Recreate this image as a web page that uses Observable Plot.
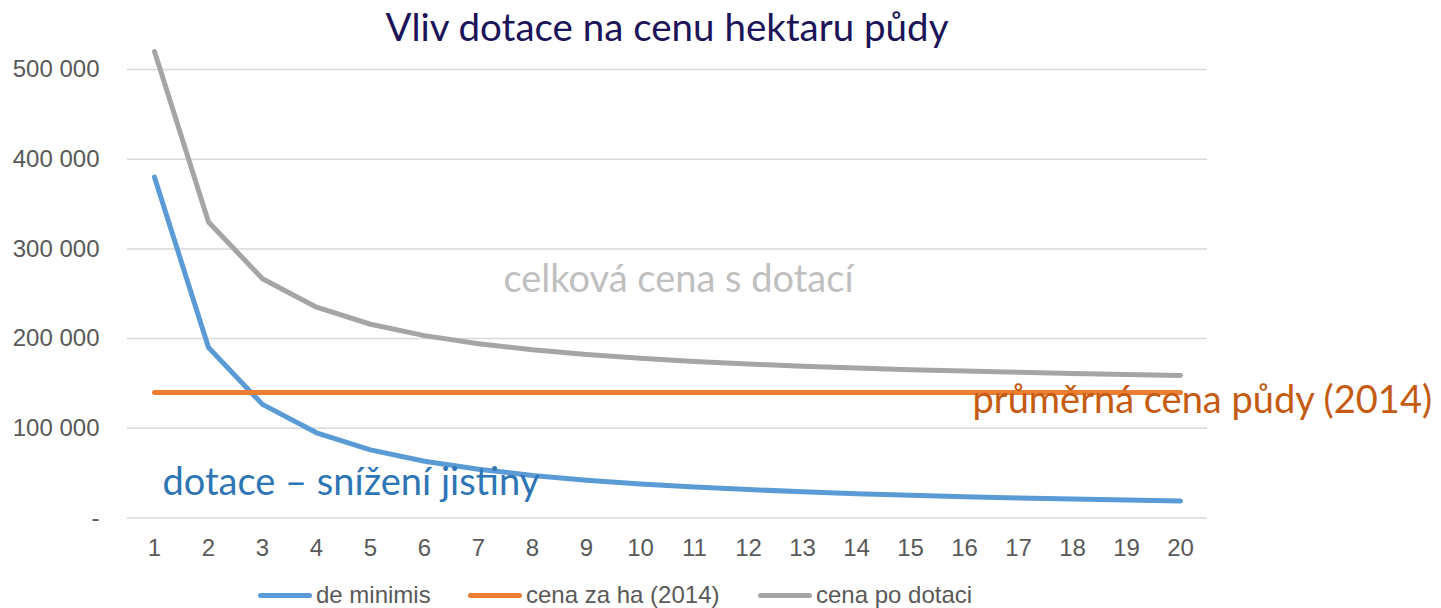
<!DOCTYPE html>
<html>
<head>
<meta charset="utf-8">
<script src="https://cdn.jsdelivr.net/npm/d3@7"></script>
<script src="https://cdn.jsdelivr.net/npm/@observablehq/plot@0.6"></script>
<style>
  html, body { margin: 0; padding: 0; background: #fff; }
  #wrap { position: relative; width: 1441px; height: 608px; overflow: hidden; }
  #title { position: absolute; left: 0; top: -2px; width: 1334px; height: 56px; text-align: center;
    font-family: Lato, sans-serif; font-size: 38.5px; line-height: 56px; color: #1b1458; z-index: 2; }
  #chart { position: absolute; left: 0; top: 36px; }
  #chart svg { overflow: visible; }
  #legend { position: absolute; left: 0; top: 566px; width: 1441px; height: 42px;
    font-family: "Liberation Sans", Arial, sans-serif; font-size: 24px; color: #595959; }
  .item { position: absolute; top: 17px; height: 24px; display: flex; align-items: center; white-space: nowrap; }
  .item span { line-height: 24px; }
  .swatch { width: 54px; height: 5px; border-radius: 3px; margin-right: 4px; }
</style>
</head>
<body>
<div id="wrap">
  <div id="title">Vliv dotace na cenu hektaru půdy</div>
  <div id="chart"></div>
  <div id="legend"></div>
</div>
<script>
// ---- data ----
const years = [1,2,3,4,5,6,7,8,9,10,11,12,13,14,15,16,17,18,19,20];
const deMinimis = [380000,190000,126700,95000,76000,63300,54300,47500,42200,38000,34500,31700,29200,27100,25300,23800,22400,21100,20000,19000];
const cenaZaHa = [140000,140000,140000,140000,140000,140000,140000,140000,140000,140000,140000,140000,140000,140000,140000,140000,140000,140000,140000,140000];
const cenaPoDotaci = [520000,330000,266700,235000,216000,203300,194300,187500,182200,178000,174500,171700,169200,167100,165300,163800,162400,161100,160000,159000];
const yTicks = [0,100000,200000,300000,400000,500000];
const seriesNames = ["de minimis","cena za ha (2014)","cena po dotaci"];
const seriesColors = ["#5b9bd5","#ed7d31","#a5a5a5"];
const annotations = [
  {label: "celková cena s dotací", x: 8, y: 265000, dx: -29, color: "#bfbfbf"},
  {label: "dotace – snížení jistiny", x: 1, y: 39500, dx: 8, color: "#2e75b6"},
  {label: "průměrná cena půdy (2014)", x: 16, y: 131000, dx: 8, color: "#c55a11"}
];

const rows = [];
[deMinimis, cenaZaHa, cenaPoDotaci].forEach((arr, si) => {
  arr.forEach((v, i) => rows.push({series: seriesNames[si], year: years[i], value: v}));
});

const fmt = v => v === 0 ? "-" : d3.format(",")(v).replace(/,/g, " ");

const plot = Plot.plot({
  width: 1441,
  height: 530,
  marginLeft: 127,
  marginRight: 234,
  marginTop: 33,
  marginBottom: 48.5,
  style: {fontFamily: "'Liberation Sans', Arial, sans-serif", fontSize: "24px", color: "#595959", background: "transparent", overflow: "visible"},
  x: {type: "point", domain: years, padding: 0.5, label: null},
  y: {domain: [0, 500000], label: null},
  color: {domain: seriesNames, range: seriesColors},
  marks: [
    Plot.ruleY(yTicks, {stroke: "#d9d9d9", strokeWidth: 1.5}),
    Plot.axisY({ticks: yTicks, tickFormat: fmt, tickSize: 0, tickPadding: 28, label: null, fill: "#595959", fontSize: 24}),
    Plot.axisX({tickSize: 0, tickPadding: 21, label: null, fill: "#595959", fontSize: 24}),
    Plot.line(rows, {x: "year", y: "value", z: "series", stroke: "series", strokeWidth: 5,
      strokeLinecap: "round", strokeLinejoin: "round"}),
    Plot.text(annotations, {x: "x", y: "y", text: "label", fill: "color", textAnchor: "start",
      fontFamily: "Lato, sans-serif", fontSize: 38})
  ]
});
document.getElementById("chart").appendChild(plot);

// apply dx per annotation
const texts = plot.querySelectorAll("g[aria-label='text'] text");
texts.forEach((t, i) => {
  const a = annotations[i];
  const cur = t.getAttribute("transform") || "";
  t.setAttribute("transform", cur + ` translate(${a.dx},0)`);
});

// legend
const legendX = [258, 468, 758];
const legend = document.getElementById("legend");
seriesNames.forEach((name, i) => {
  const item = document.createElement("div");
  item.className = "item";
  item.style.left = legendX[i] + "px";
  item.innerHTML = `<div class="swatch" style="background:${seriesColors[i]}"></div><span>${name}</span>`;
  legend.appendChild(item);
});
</script>
</body>
</html>
